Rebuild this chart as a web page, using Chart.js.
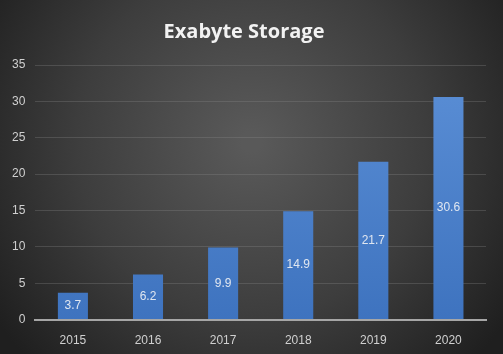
<!DOCTYPE html>
<html>
<head>
<meta charset="utf-8">
<script src="https://cdn.jsdelivr.net/npm/chart.js@4.4.0/dist/chart.umd.min.js"></script>
<style>
  html, body { margin: 0; padding: 0; background: #2a2a2a; }
  #wrap { width: 503px; height: 354px; position: relative; }
</style>
</head>
<body>
<div id="wrap"><canvas id="myChart"></canvas></div>
<script>
// chart data
var years = ['2015', '2016', '2017', '2018', '2019', '2020'];
var exabytes = [3.7, 6.2, 9.9, 14.9, 21.7, 30.6];
var yTicks = [0, 5, 10, 15, 20, 25, 30, 35];

// dark radial background like the office theme
var bgPlugin = {
    id: 'bg',
    beforeDraw: function(chart) {
        var ctx = chart.ctx;
        var w = chart.width, h = chart.height;
        var g = ctx.createRadialGradient(w * 0.5, h * 0.4, 10, w * 0.5, h * 0.4, w * 0.62);
        g.addColorStop(0, '#595959');
        g.addColorStop(0.55, '#3d3d3d');
        g.addColorStop(1, '#1f1f1f');
        ctx.save();
        ctx.fillStyle = g;
        ctx.fillRect(0, 0, w, h);
        ctx.restore();
    }
};

// value labels in the middle of each bar
var labelPlugin = {
    id: 'barLabels',
    afterDatasetsDraw: function(chart) {
        var ctx = chart.ctx;
        var meta = chart.getDatasetMeta(0);
        ctx.save();
        ctx.font = '12px "Liberation Sans", sans-serif';
        ctx.fillStyle = '#dfe6f0';
        ctx.textAlign = 'center';
        ctx.textBaseline = 'middle';
        meta.data.forEach(function(bar, i) {
            var mid = (bar.y + bar.base) / 2;
            ctx.fillText(exabytes[i].toFixed(1), bar.x, mid);
        });
        ctx.restore();
    }
};

var ctx = document.getElementById('myChart');
var myChart = new Chart(ctx, {
    type: 'bar',
    data: {
        labels: years,
        datasets: [{
            label: 'Exabyte Storage',
            data: exabytes,
            backgroundColor: function(c) {
                var area = c.chart.chartArea;
                if (!area) return '#4a80c8';
                var g = c.chart.ctx.createLinearGradient(0, area.top, 0, area.bottom);
                g.addColorStop(0, '#5b8fd6');
                g.addColorStop(1, '#3e73bf');
                return g;
            },
            borderWidth: 0,
            categoryPercentage: 1.0,
            barPercentage: 0.4
        }]
    },
    options: {
        responsive: true,
        maintainAspectRatio: false,
        animation: false,
        layout: { padding: { left: 2, right: 17, top: 0, bottom: 0 } },
        plugins: {
            legend: { display: false },
            tooltip: { enabled: false },
            title: {
                display: true,
                text: 'Exabyte Storage',
                color: '#f2f2f2',
                font: { family: '"Open Sans", sans-serif', size: 20, weight: 'bold' },
                padding: { top: 20, bottom: 21 }
            }
        },
        scales: {
            x: {
                grid: { display: false },
                border: { color: '#a6a6a6', width: 2 },
                ticks: { color: '#d0d0d0', font: { family: '"Liberation Sans", sans-serif', size: 12 }, padding: 6 }
            },
            y: {
                min: 0,
                max: 35,
                afterBuildTicks: function(axis) {
                    axis.ticks = yTicks.map(function(v) { return { value: v }; });
                },
                grid: { color: 'rgba(140,140,140,0.3)', lineWidth: 1, drawTicks: false },
                border: { display: false },
                ticks: { color: '#d0d0d0', font: { family: '"Liberation Sans", sans-serif', size: 12 }, padding: 10 }
            }
        }
    },
    plugins: [bgPlugin, labelPlugin]
});
</script>
</body>
</html>
